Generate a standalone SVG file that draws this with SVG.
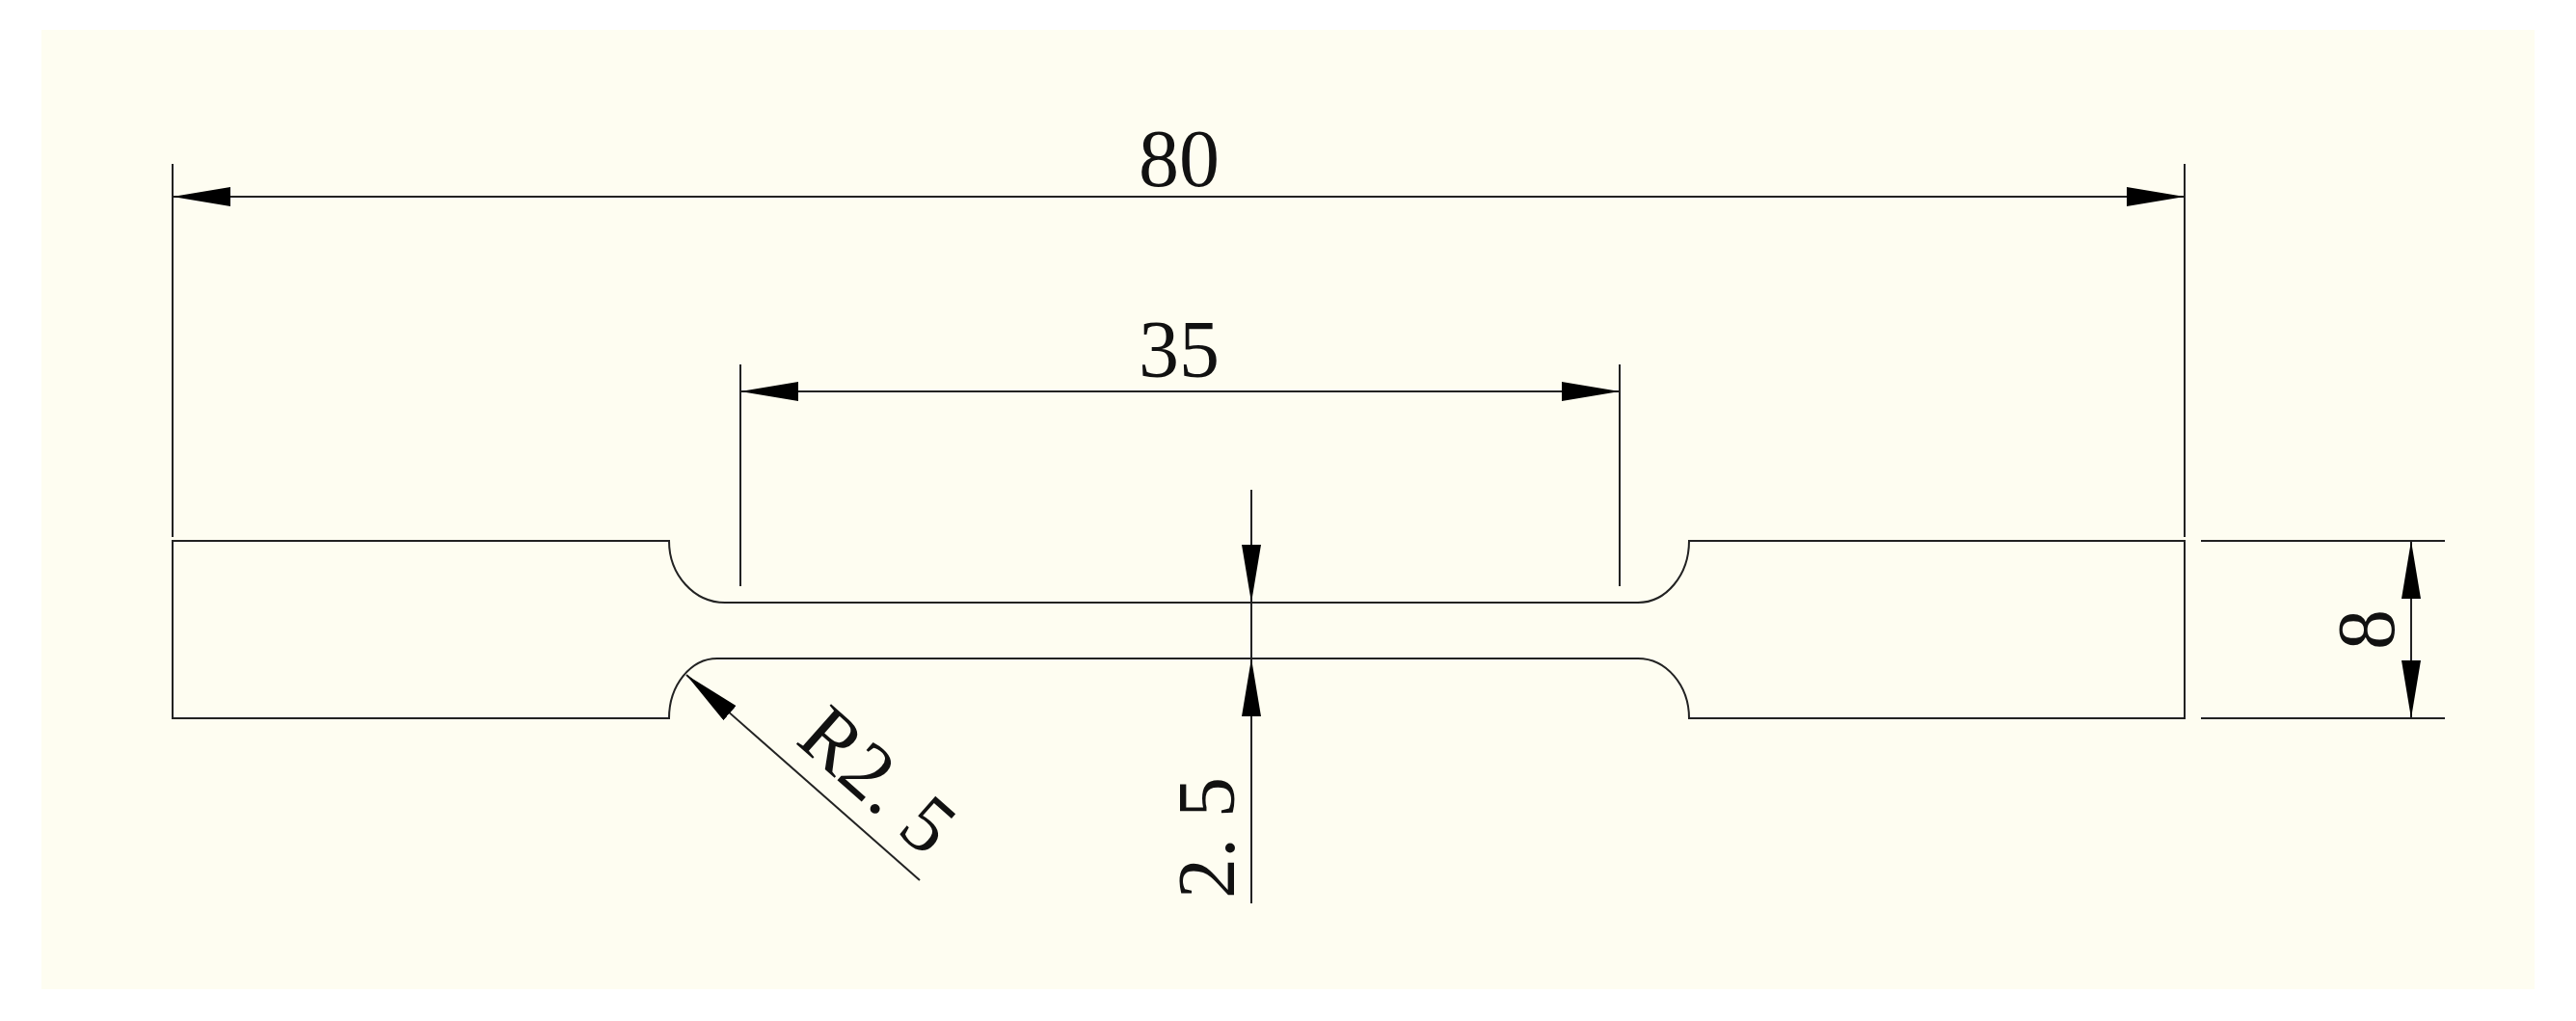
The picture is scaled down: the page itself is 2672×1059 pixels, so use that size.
<svg xmlns="http://www.w3.org/2000/svg" width="2672" height="1059" viewBox="0 0 2672 1059">
<style>
.l{stroke:#222;stroke-width:2;fill:none}
.t{font-family:"Liberation Serif",serif;font-size:84px;fill:#111}
</style>
<defs>
<marker id="a" viewBox="0 0 60 20" refX="60" refY="10" markerWidth="60" markerHeight="20" markerUnits="userSpaceOnUse" orient="auto-start-reverse"><path d="M60,10 L0,0 L0,20 Z" fill="#000"/></marker>
</defs>
<rect width="2672" height="1059" fill="#fff"/>
<rect x="43" y="31" width="2586" height="995" fill="#fefdf1"/>
<g id="specimen">
<path class="l" d="M179,561 H694 A58,64 0 0 0 752,625 H1699 A53,64 0 0 0 1752,561 H2266 V745 H1752 A53,62 0 0 0 1699,683 H744 A50,62 0 0 0 694,745 H179 Z"/>
</g>
<g id="connectors">
<line class="l" x1="179" y1="170" x2="179" y2="557"/>
<line class="l" x1="2266" y1="170" x2="2266" y2="557"/>
<line class="l" x1="179" y1="204" x2="2266" y2="204" marker-start="url(#a)" marker-end="url(#a)"/>
<line class="l" x1="768" y1="378" x2="768" y2="608"/>
<line class="l" x1="1680" y1="378" x2="1680" y2="608"/>
<line class="l" x1="768" y1="406" x2="1680" y2="406" marker-start="url(#a)" marker-end="url(#a)"/>
<line class="l" x1="1298" y1="508" x2="1298" y2="937"/>
<path d="M1298,625 L1288,565 L1308,565 Z" fill="#000"/>
<path d="M1298,683 L1288,743 L1308,743 Z" fill="#000"/>
<line class="l" x1="2283" y1="561" x2="2536" y2="561"/>
<line class="l" x1="2283" y1="745" x2="2536" y2="745"/>
<line class="l" x1="2501" y1="561" x2="2501" y2="745" marker-start="url(#a)" marker-end="url(#a)"/>
<line class="l" x1="712" y1="700" x2="954" y2="913" marker-start="url(#a)"/>
</g>
<g id="labels">
<text class="t" x="1223" y="193" text-anchor="middle">80</text>
<text class="t" x="1223" y="391" text-anchor="middle">35</text>
<text class="t" text-anchor="middle" transform="translate(1280,869) rotate(-90)">2. 5</text>
<text class="t" text-anchor="middle" transform="translate(2483,653) rotate(-90)">8</text>
<text class="t" text-anchor="middle" transform="translate(892,830) rotate(41.5)">R2. 5</text>
</g>
</svg>
